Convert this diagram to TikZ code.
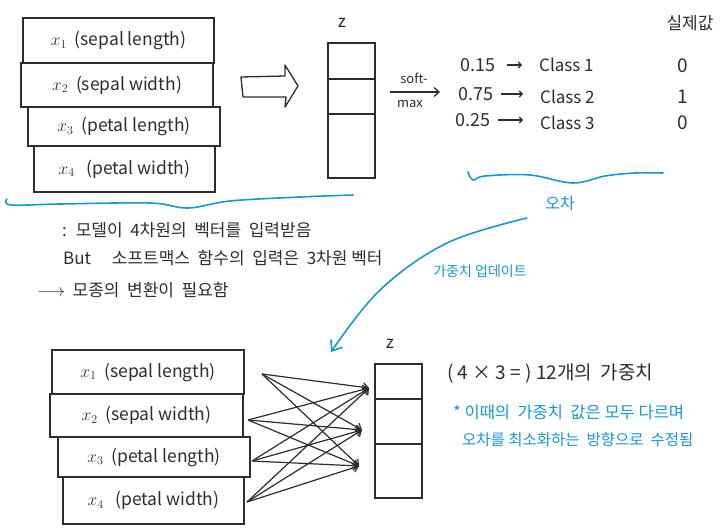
\documentclass[tikz,border=0pt]{standalone}
\usepackage{fontspec}
\setmainfont{Noto Sans CJK KR}
\usetikzlibrary{arrows.meta}
\definecolor{ink}{RGB}{45,45,45}
\definecolor{pen}{RGB}{22,152,212}
\begin{document}
\begin{tikzpicture}[x=1pt,y=-1pt,
  inbox/.style={draw=ink,line width=2.2pt,anchor=north west,inner sep=0pt,
    font=\fontsize{17.5}{19}\selectfont,text=ink},
  zcell/.style={draw=ink,line width=2.2pt,anchor=north west,inner sep=0pt,minimum width=47pt},
  txt/.style={inner sep=0pt,text=ink,font=\fontsize{17}{19}\selectfont},
  btxt/.style={inner sep=0pt,text=pen,font=\fontsize{15}{17}\selectfont},
  hand/.style={draw=ink,line width=1.3pt,-{Straight Barb[length=5pt,width=9pt]}},
  bluepen/.style={draw=pen,line width=1.6pt,line cap=round}]
\useasboundingbox (0,0) rectangle (721,528);

% ---- top input boxes
\node[inbox,minimum width=191pt,minimum height=45pt] (a1) at (22,17) {\(x_1\) \ (sepal length)};
\node[inbox,minimum width=192pt,minimum height=44pt] (a2) at (20,62) {\(x_2\) \ (sepal width)};
\node[inbox,minimum width=192pt,minimum height=39pt] (a3) at (27,106) {\(x_3\) \ (petal length)};
\node[inbox,minimum width=181pt,minimum height=46pt] (a4) at (33,145) {\(x_4\) \ \ (petal width)};

% ---- hollow arrow
\draw[ink,line width=1.3pt,line join=round] (241,77) -- (285,76) -- (285,65) -- (298,86) -- (285,107) -- (286,97) -- (243,97) -- cycle;

% ---- top z
\node[txt] (zt) at (342,23) {z};
\node[zcell,minimum height=36pt] (z1) at (327,42) {};
\node[zcell,minimum height=35pt] (z2) at (327,78) {};
\node[zcell,minimum height=64pt] (z3) at (327,113) {};

% ---- softmax
\coordinate (sm0) at (390,92);
\coordinate (sm1) at (440,92);
\draw[hand] (sm0) -- (sm1);
\node[txt,font=\fontsize{13}{15}\selectfont] (soft) at (414,78) {soft-};
\node[txt,font=\fontsize{13}{15}\selectfont] (max) at (410,104) {max};

% ---- probabilities
\node[txt,anchor=west,font=\fontsize{18}{20}\selectfont] (v1) at (460,65) {0.15};
\node[txt,anchor=west,font=\fontsize{18}{20}\selectfont] (v2) at (458,94) {0.75};
\node[txt,anchor=west,font=\fontsize{18}{20}\selectfont] (v3) at (455,120) {0.25};
\node[txt,anchor=west] (c1) at (539,65) {Class 1};
\node[txt,anchor=west] (c2) at (540,97) {Class 2};
\node[txt,anchor=west] (c3) at (540,123) {Class 3};
\draw[hand,line width=1.1pt,-{Straight Barb[length=3pt,width=6pt]},shorten <=12pt,shorten >=17pt] (v1.east) -- (v1.east -| c1.west);
\draw[hand,line width=1.1pt,-{Straight Barb[length=3pt,width=6pt]},shorten <=8pt,shorten >=17pt] (v2.east) -- (v2.east -| c2.west);
\draw[hand,line width=1.1pt,-{Straight Barb[length=3pt,width=6pt]},shorten <=8pt,shorten >=17pt] (v3.east) -- (v3.east -| c3.west);

\node[txt] (real) at (690,23) {실제값};
\node[txt,font=\fontsize{19}{21}\selectfont] (r1) at (683,66) {0};
\node[txt,font=\fontsize{19}{21}\selectfont] (r2) at (683,97) {1};
\node[txt,font=\fontsize{19}{21}\selectfont] (r3) at (683,123) {0};

% ---- blue brackets
\draw[bluepen] plot[smooth,tension=0.6] coordinates {(7,199) (11,205) (60,204) (150,203) (188,208) (230,201) (300,197) (353,195)};
\draw[bluepen] plot[smooth,tension=0.6] coordinates {(468,172) (473,180) (485,176) (530,175) (573,183) (605,176) (635,173) (663,173)};
\node[btxt,font=\fontsize{16}{18}\selectfont] (err) at (560,204) {오차};

% ---- blue update arrow
\draw[bluepen,-{Straight Barb[length=9pt,width=14pt]}] plot[smooth,tension=0.6] coordinates {(527,218) (447,243) (380,290) (331,352)};
\node[btxt,font=\fontsize{14}{16}\selectfont] (upd) at (480,271) {가중치 업데이트};

% ---- explanation text
\node[txt,anchor=west] (t1) at (62,230) {: \ 모델이 \ 4차원의 \ 벡터를 \ 입력받음};
\node[txt,anchor=west] (t2) at (63,258) {But \quad 소프트맥스 \ 함수의 \ 입력은 \ 3차원 벡터};
\node[txt,anchor=west] (t3) at (37,290) {\(\longrightarrow\) \ 모종의 \ 변환이 \ 필요함};

% ---- bottom input boxes
\node[inbox,minimum width=192pt,minimum height=44pt] (b1) at (51,349) {\(x_1\) \ (sepal length)};
\node[inbox,minimum width=193pt,minimum height=43pt] (b2) at (49,393) {\(x_2\) \ (sepal width)};
\node[inbox,minimum width=192pt,minimum height=40pt] (b3) at (57,436) {\(x_3\) \ (petal length)};
\node[inbox,minimum width=181pt,minimum height=47pt] (b4) at (62,476) {\(x_4\) \ \ (petal width)};

% ---- bottom z
\node[txt] (zb) at (390,344) {z};
\node[zcell,minimum height=35pt] (y1) at (374,363) {};
\node[zcell,minimum height=45pt] (y2) at (374,398) {};
\node[zcell,minimum height=54pt] (y3) at (374,443) {};

% ---- weights (4 x 3)
\coordinate (s1) at (262,374);
\coordinate (s2) at (248,420);
\coordinate (s3) at (252,461);
\coordinate (s4) at (247,502);
\coordinate (e1) at (369,388);
\coordinate (e2) at (362,430);
\coordinate (e3) at (359,466);
\foreach \s in {s1,s2,s3,s4}{
  \foreach \e in {e1,e2,e3}{
    \draw[hand,line width=1.2pt] (\s) -- (\e);
  }
}

% ---- right bottom notes
\node[txt,anchor=west,font=\fontsize{19}{21}\selectfont] (w1) at (447,373) {( 4 × 3 = ) 12개의 \ 가중치};
\node[btxt,anchor=west,font=\fontsize{16.5}{19}\selectfont] (w2) at (453,412) {* 이때의 \ 가중치 \ 값은 모두 다르며};
\node[btxt,anchor=west,font=\fontsize{15.5}{18}\selectfont] (w3) at (462,440) {오차를 최소화하는 \ 방향으로 \ 수정됨};
\end{tikzpicture}
\end{document}
